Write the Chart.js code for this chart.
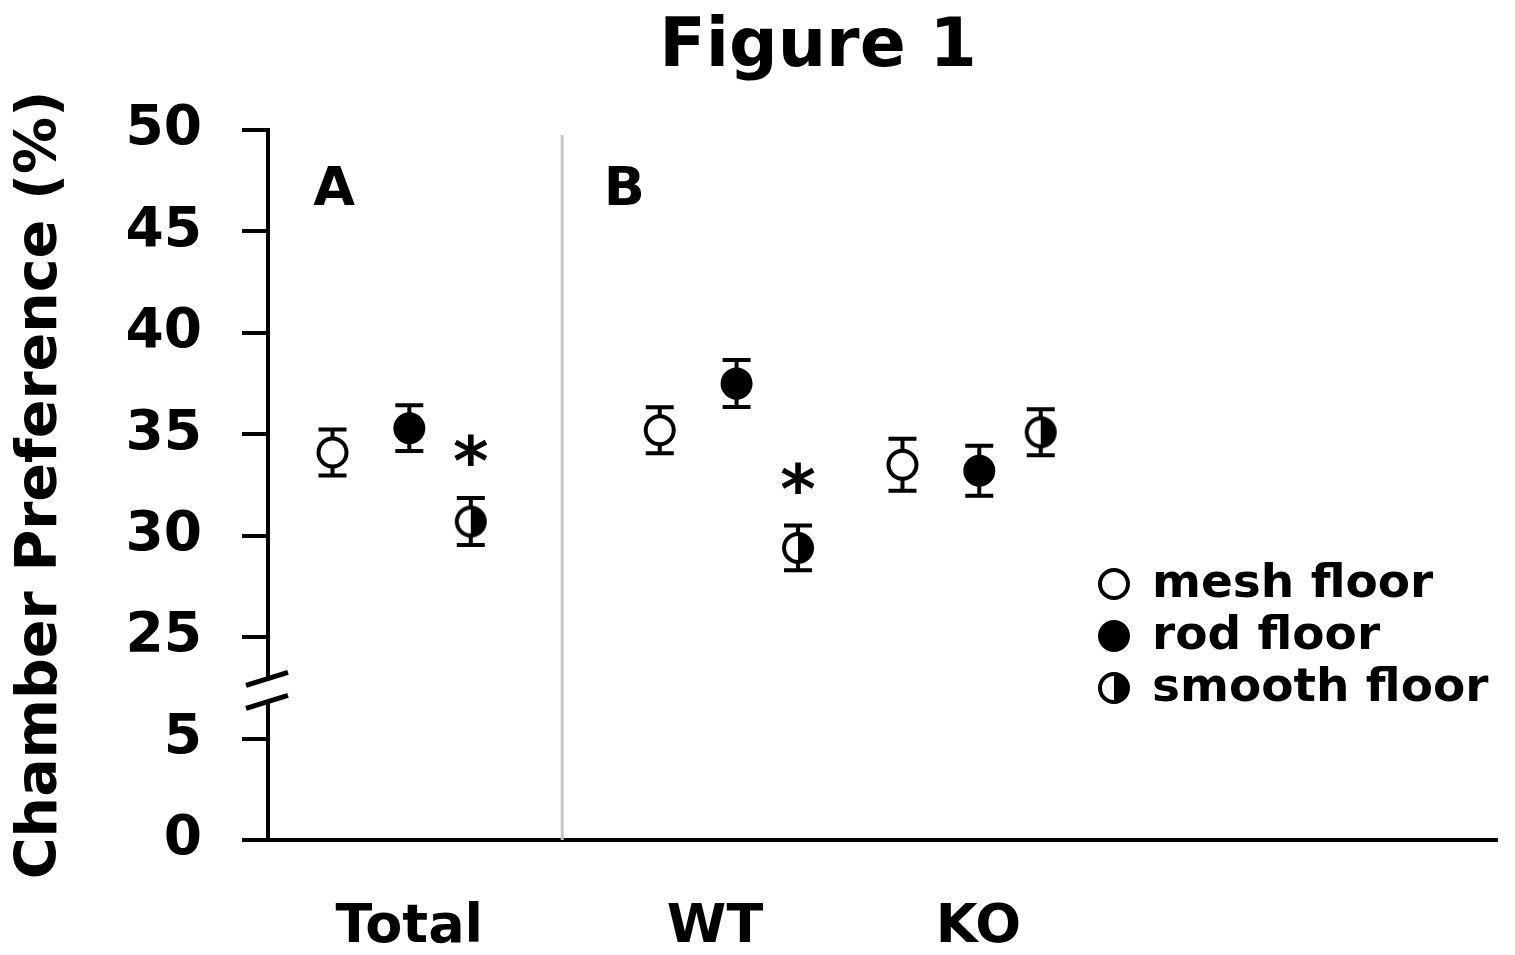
<!DOCTYPE html>
<html>
<head>
<meta charset="utf-8">
<script src="https://cdn.jsdelivr.net/npm/chart.js@4.4.1/dist/chart.umd.min.js"></script>
<style>
  html, body { margin: 0; padding: 0; background: #fff; }
</style>
</head>
<body>
<canvas id="fig" width="1515" height="955"></canvas>
<script>
// data
const groups = ['Total', 'WT', 'KO'];
const groupX = [1.84, 6.1, 9.26];      // rod floor sits at the group centre
const labelX = [1.84, 5.82, 9.25];     // where the category names sit
const floors = ['mesh floor', 'rod floor', 'smooth floor'];
const floorOffset = [-1.0, 0, 0.8];
const meshVals = [34.1, 35.2, 33.5];
const meshErr = [1.13, 1.13, 1.28];
const rodVals = [35.3, 37.5, 33.2];
const rodErr = [1.13, 1.16, 1.23];
const smoothVals = [30.7, 29.4, 35.1];
const smoothErr = [1.16, 1.1, 1.13];
const smoothStar = [true, true, false];
// broken axis: 0 and 5 are drawn at 15 and 20
const yTicks = [15, 20, 25, 30, 35, 40, 45, 50];
const yTickLabels = ['0', '5', '25', '30', '35', '40', '45', '50'];
const panels = [{text: 'A', x: 0.86}, {text: 'B', x: 4.64}];
const separatorX = 3.83;
const figTitle = 'Figure 1';

const FONT = '"DejaVu Sans", Verdana, sans-serif';

function halfDot(r) {
  const c = document.createElement('canvas');
  const s = 2 * r + 8;
  c.width = s; c.height = s;
  const g = c.getContext('2d');
  const m = s / 2;
  g.beginPath(); g.arc(m, m, r, 0, 2 * Math.PI); g.fillStyle = '#fff'; g.fill();
  g.beginPath(); g.arc(m, m, r, -Math.PI / 2, Math.PI / 2); g.closePath();
  g.fillStyle = '#000'; g.fill();
  g.beginPath(); g.arc(m, m, r, 0, 2 * Math.PI);
  g.lineWidth = 4; g.strokeStyle = '#000'; g.stroke();
  return c;
}
const smoothMarker = halfDot(14);

function points(vals, f) {
  return vals.map((v, i) => ({x: groupX[i] + floorOffset[f], y: v}));
}

const errorBars = {
  id: 'errorBars',
  beforeDatasetsDraw(chart) {
    const {ctx, chartArea, scales: {x, y}} = chart;
    ctx.save();
    // panel separator
    ctx.strokeStyle = '#c4c4c4';
    ctx.lineWidth = 3;
    const sx = x.getPixelForValue(separatorX);
    ctx.beginPath();
    ctx.moveTo(sx, chartArea.top + 5);
    ctx.lineTo(sx, chartArea.bottom);
    ctx.stroke();

    ctx.strokeStyle = '#000';
    ctx.lineWidth = 4;
    chart.data.datasets.forEach(ds => {
      ds.data.forEach((p, i) => {
        const px = x.getPixelForValue(p.x);
        const top = y.getPixelForValue(p.y + ds.errors[i]);
        const bot = y.getPixelForValue(p.y - ds.errors[i]);
        ctx.beginPath();
        ctx.moveTo(px, top); ctx.lineTo(px, bot);
        ctx.moveTo(px - 14, top); ctx.lineTo(px + 14, top);
        ctx.moveTo(px - 14, bot); ctx.lineTo(px + 14, bot);
        ctx.stroke();
      });
    });
    ctx.restore();
  }
};

const extras = {
  id: 'extras',
  afterDraw(chart) {
    const {ctx, chartArea, scales: {x, y}} = chart;
    ctx.save();
    ctx.fillStyle = '#000';

    // title
    ctx.font = 'bold 68px ' + FONT;
    ctx.textAlign = 'center';
    ctx.textBaseline = 'alphabetic';
    ctx.fillText(figTitle, 818, 66);

    // panel letters
    ctx.font = 'bold 54px ' + FONT;
    ctx.textBaseline = 'middle';
    panels.forEach(p => ctx.fillText(p.text, x.getPixelForValue(p.x), y.getPixelForValue(47.0)));

    // significance stars above the smooth floor bars
    ctx.font = 'bold 68px ' + FONT;
    ctx.textBaseline = 'alphabetic';
    smoothStar.forEach((s, i) => {
      if (!s) return;
      const px = x.getPixelForValue(groupX[i] + floorOffset[2]);
      const top = y.getPixelForValue(smoothVals[i] + smoothErr[i]);
      ctx.fillText('*', px, top - 13);
    });

    // axis break
    const left = chartArea.left;
    const yb = y.getPixelForValue(22.4);
    ctx.fillStyle = '#fff';
    ctx.fillRect(left - 5, yb - 12, 10, 23);
    ctx.strokeStyle = '#000';
    ctx.lineWidth = 5;
    [yb - 11, yb + 12].forEach(c => {
      ctx.beginPath();
      ctx.moveTo(left - 22, c + 6.5);
      ctx.lineTo(left + 20, c - 6.5);
      ctx.stroke();
    });

    // legend
    const lx = 1114, ly = 584, step = 52;
    ctx.font = 'bold 47px ' + FONT;
    ctx.textAlign = 'left';
    ctx.textBaseline = 'middle';
    chart.data.datasets.forEach((ds, k) => {
      const cy = ly + k * step;
      if (ds.pointStyle === 'circle') {
        ctx.beginPath();
        ctx.arc(lx, cy, 14, 0, 2 * Math.PI);
        ctx.fillStyle = ds.pointBackgroundColor;
        ctx.fill();
        ctx.lineWidth = 4;
        ctx.strokeStyle = '#000';
        ctx.stroke();
      } else {
        ctx.drawImage(ds.pointStyle, lx - ds.pointStyle.width / 2, cy - ds.pointStyle.height / 2);
      }
      ctx.fillStyle = '#000';
      ctx.fillText(ds.label, lx + 38, cy + 1);
    });
    ctx.restore();
  }
};

new Chart(document.getElementById('fig'), {
  type: 'scatter',
  data: {
    datasets: [
      {label: floors[0], data: points(meshVals, 0), errors: meshErr,
       pointStyle: 'circle', pointRadius: 14, pointBorderWidth: 4,
       pointBackgroundColor: '#fff', pointBorderColor: '#000'},
      {label: floors[1], data: points(rodVals, 1), errors: rodErr,
       pointStyle: 'circle', pointRadius: 14, pointBorderWidth: 4,
       pointBackgroundColor: '#000', pointBorderColor: '#000'},
      {label: floors[2], data: points(smoothVals, 2), errors: smoothErr,
       pointStyle: smoothMarker, pointRadius: 14,
       pointBackgroundColor: '#000', pointBorderColor: '#000'}
    ]
  },
  options: {
    responsive: false,
    devicePixelRatio: 1,
    animation: false,
    layout: {padding: {left: 0, right: 15, top: 130, bottom: 0}},
    plugins: {
      legend: {display: false},
      tooltip: {enabled: false},
      title: {display: false}
    },
    scales: {
      x: {
        type: 'linear',
        min: 0,
        max: 16,
        afterFit(scale) { scale.height = 115; },
        afterBuildTicks(scale) { scale.ticks = labelX.map(v => ({value: v})); },
        grid: {display: false, drawTicks: false},
        border: {display: true, color: '#000', width: 4},
        ticks: {
          autoSkip: false,
          maxRotation: 0,
          padding: 56,
          color: '#000',
          font: {family: FONT, size: 54, weight: 'bold'},
          callback: (v, i) => groups[i]
        }
      },
      y: {
        min: 15,
        max: 50,
        afterFit(scale) { scale.width = 268; },
        afterBuildTicks(scale) { scale.ticks = yTicks.map(v => ({value: v})); },
        grid: {drawOnChartArea: false, drawTicks: true, tickLength: 26, color: '#000', lineWidth: 4},
        border: {display: true, color: '#000', width: 4},
        ticks: {
          padding: 40,
          color: '#000',
          font: {family: FONT, size: 55, weight: 'bold'},
          callback: (v, i) => yTickLabels[i]
        },
        title: {
          display: true,
          text: 'Chamber Preference (%)',
          color: '#000',
          font: {family: FONT, size: 57, weight: 'bold', lineHeight: 1.2},
          padding: {top: 7, bottom: 0}
        }
      }
    }
  },
  plugins: [errorBars, extras]
});
</script>
</body>
</html>
